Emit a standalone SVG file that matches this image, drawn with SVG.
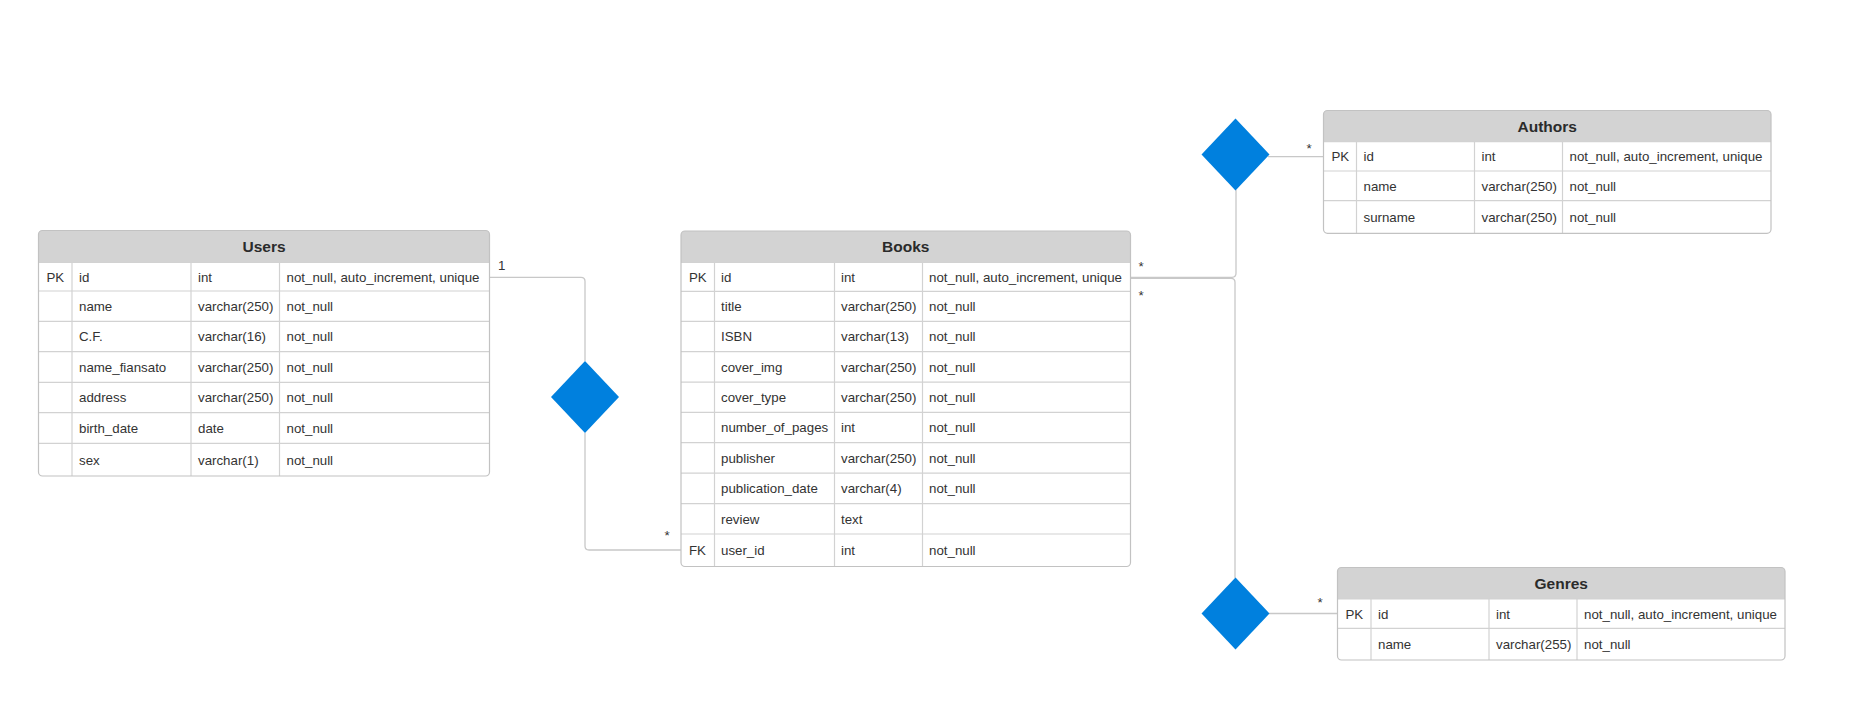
<svg xmlns="http://www.w3.org/2000/svg" width="1863" height="722" viewBox="0 0 1863 722">
<style>
text{font-family:"Liberation Sans",Arial,sans-serif;fill:#333}
.t{font-size:13.3px}
.h{font-size:15.5px;font-weight:bold;text-anchor:middle;fill:#2b2b2b}
.hd{fill:#d3d3d3;stroke:none}
.box{fill:none;stroke:#c2c2c2;stroke-width:1.2}
.grid{stroke:#d2d2d2;stroke-width:1.2;fill:none}
.dia{fill:#0080de}
.con{fill:none;stroke:#c8c8c8;stroke-width:1.3}
.lbl{font-size:13.3px;text-anchor:middle}
</style>
<rect width="1863" height="722" fill="#ffffff"/>

<g id="connectors">
<path class="con" d="M489.5,277.3 H581 Q585,277.3 585,281.3 V361 M585,433 V546 Q585,550 589,550 H681"/>
<path class="con" d="M1130.5,277.3 H1232 Q1236,277.3 1236,273.3 V190 M1268,156.7 H1323.5"/>
<path class="con" d="M1130.5,278.3 H1231 Q1235,278.3 1235,282.3 V578 M1269,613.5 H1337.5"/>
<text class="lbl" x="501.7" y="269.8">1</text>
<text class="lbl" x="667" y="539.7">*</text>
<text class="lbl" x="1141" y="270.7">*</text>
<text class="lbl" x="1141" y="299.7">*</text>
<text class="lbl" x="1309" y="152.7">*</text>
<text class="lbl" x="1320" y="606.7">*</text>
</g>

<g id="rel-users-books">
<polygon class="dia" points="585,361 619,397 585,433 551,397"/>
</g>
<g id="rel-books-authors">
<polygon class="dia" points="1235.5,118.5 1269.5,154.5 1235.5,190.5 1201.5,154.5"/>
</g>
<g id="rel-books-genres">
<polygon class="dia" points="1235.5,577.5 1269.5,613.5 1235.5,649.5 1201.5,613.5"/>
</g>

<g id="users">
<path class="hd" d="M38.5,262.3 V234.5 Q38.5,230.5 42.5,230.5 H485.5 Q489.5,230.5 489.5,234.5 V262.3 Z"/>
<path class="grid" d="M38.5,262.3 H489.5 M38.5,291 H489.5 M38.5,321.3 H489.5 M38.5,351.7 H489.5 M38.5,382.3 H489.5 M38.5,412.7 H489.5 M38.5,443.3 H489.5 M72,262.3 V476 M191,262.3 V476 M279.5,262.3 V476"/>
<rect class="box" x="38.5" y="230.5" width="451" height="245.5" rx="4"/>
<text class="h" x="264" y="251.5">Users</text>
<text class="t" x="46.5" y="281.5">PK</text><text class="t" x="79" y="281.5">id</text><text class="t" x="198" y="281.5">int</text><text class="t" x="286.5" y="281.5">not_null, auto_increment, unique</text>
<text class="t" x="79" y="311">name</text><text class="t" x="198" y="311">varchar(250)</text><text class="t" x="286.5" y="311">not_null</text>
<text class="t" x="79" y="341.3">C.F.</text><text class="t" x="198" y="341.3">varchar(16)</text><text class="t" x="286.5" y="341.3">not_null</text>
<text class="t" x="79" y="371.8">name_fiansato</text><text class="t" x="198" y="371.8">varchar(250)</text><text class="t" x="286.5" y="371.8">not_null</text>
<text class="t" x="79" y="402.3">address</text><text class="t" x="198" y="402.3">varchar(250)</text><text class="t" x="286.5" y="402.3">not_null</text>
<text class="t" x="79" y="432.8">birth_date</text><text class="t" x="198" y="432.8">date</text><text class="t" x="286.5" y="432.8">not_null</text>
<text class="t" x="79" y="464.5">sex</text><text class="t" x="198" y="464.5">varchar(1)</text><text class="t" x="286.5" y="464.5">not_null</text>
</g>

<g id="books">
<path class="hd" d="M681,262.3 V235 Q681,231 685,231 H1126.5 Q1130.5,231 1130.5,235 V262.3 Z"/>
<path class="grid" d="M681,262.3 H1130.5 M681,291.3 H1130.5 M681,321.4 H1130.5 M681,351.7 H1130.5 M681,382.2 H1130.5 M681,412.4 H1130.5 M681,442.7 H1130.5 M681,473.2 H1130.5 M681,503.6 H1130.5 M681,534 H1130.5 M714.5,262.3 V566.5 M834.5,262.3 V566.5 M922.5,262.3 V566.5"/>
<rect class="box" x="681" y="231" width="449.5" height="335.5" rx="4"/>
<text class="h" x="905.75" y="252">Books</text>
<text class="t" x="689" y="281.6">PK</text><text class="t" x="721" y="281.6">id</text><text class="t" x="841" y="281.6">int</text><text class="t" x="929" y="281.6">not_null, auto_increment, unique</text>
<text class="t" x="721" y="311.2">title</text><text class="t" x="841" y="311.2">varchar(250)</text><text class="t" x="929" y="311.2">not_null</text>
<text class="t" x="721" y="341.4">ISBN</text><text class="t" x="841" y="341.4">varchar(13)</text><text class="t" x="929" y="341.4">not_null</text>
<text class="t" x="721" y="371.8">cover_img</text><text class="t" x="841" y="371.8">varchar(250)</text><text class="t" x="929" y="371.8">not_null</text>
<text class="t" x="721" y="402.1">cover_type</text><text class="t" x="841" y="402.1">varchar(250)</text><text class="t" x="929" y="402.1">not_null</text>
<text class="t" x="721" y="432.4">number_of_pages</text><text class="t" x="841" y="432.4">int</text><text class="t" x="929" y="432.4">not_null</text>
<text class="t" x="721" y="462.8">publisher</text><text class="t" x="841" y="462.8">varchar(250)</text><text class="t" x="929" y="462.8">not_null</text>
<text class="t" x="721" y="493.2">publication_date</text><text class="t" x="841" y="493.2">varchar(4)</text><text class="t" x="929" y="493.2">not_null</text>
<text class="t" x="721" y="523.6">review</text><text class="t" x="841" y="523.6">text</text>
<text class="t" x="689" y="555">FK</text><text class="t" x="721" y="555">user_id</text><text class="t" x="841" y="555">int</text><text class="t" x="929" y="555">not_null</text>
</g>

<g id="authors">
<path class="hd" d="M1323.5,141.7 V114.5 Q1323.5,110.5 1327.5,110.5 H1767 Q1771,110.5 1771,114.5 V141.7 Z"/>
<path class="grid" d="M1323.5,141.7 H1771 M1323.5,171 H1771 M1323.5,200.7 H1771 M1356.5,141.7 V233.3 M1474.5,141.7 V233.3 M1562.5,141.7 V233.3"/>
<rect class="box" x="1323.5" y="110.5" width="447.5" height="122.8" rx="4"/>
<text class="h" x="1547.25" y="131.5">Authors</text>
<text class="t" x="1331.5" y="161.2">PK</text><text class="t" x="1363.5" y="161.2">id</text><text class="t" x="1481.5" y="161.2">int</text><text class="t" x="1569.5" y="161.2">not_null, auto_increment, unique</text>
<text class="t" x="1363.5" y="190.7">name</text><text class="t" x="1481.5" y="190.7">varchar(250)</text><text class="t" x="1569.5" y="190.7">not_null</text>
<text class="t" x="1363.5" y="221.8">surname</text><text class="t" x="1481.5" y="221.8">varchar(250)</text><text class="t" x="1569.5" y="221.8">not_null</text>
</g>

<g id="genres">
<path class="hd" d="M1337.5,599 V571.5 Q1337.5,567.5 1341.5,567.5 H1781 Q1785,567.5 1785,571.5 V599 Z"/>
<path class="grid" d="M1337.5,599 H1785 M1337.5,628.3 H1785 M1371,599 V660 M1489,599 V660 M1577,599 V660"/>
<rect class="box" x="1337.5" y="567.5" width="447.5" height="92.5" rx="4"/>
<text class="h" x="1561.25" y="588.5">Genres</text>
<text class="t" x="1345.5" y="618.5">PK</text><text class="t" x="1378" y="618.5">id</text><text class="t" x="1496" y="618.5">int</text><text class="t" x="1584" y="618.5">not_null, auto_increment, unique</text>
<text class="t" x="1378" y="649">name</text><text class="t" x="1496" y="649">varchar(255)</text><text class="t" x="1584" y="649">not_null</text>
</g>
</svg>
